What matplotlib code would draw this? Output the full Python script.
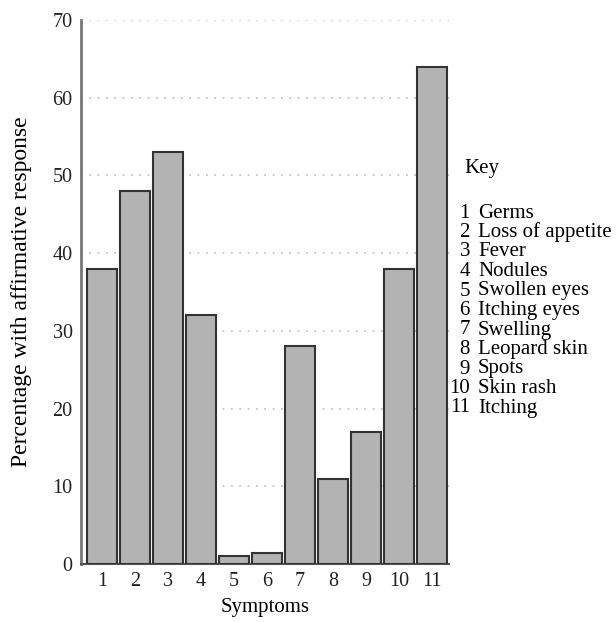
import matplotlib.pyplot as plt

plt.rcParams['font.family'] = ['Liberation Serif', 'DejaVu Serif']

symptoms = [1, 2, 3, 4, 5, 6, 7, 8, 9, 10, 11]
percentages = [38, 48, 53, 32, 1.0, 1.4, 28, 11, 17, 38, 64]
key_labels = ['Germs', 'Loss of appetite', 'Fever', 'Nodules', 'Swollen eyes',
              'Itching eyes', 'Swelling', 'Leopard skin', 'Spots', 'Skin rash', 'Itching']

fig = plt.figure(figsize=(6.16, 6.22), dpi=100)
ax = fig.add_axes([81/616, 58/622, 368/616, 544/622])

ax.grid(True, axis='y', linestyle=(0, (1, 4)), color='#bbbbbb', linewidth=1.2, zorder=0)
ax.bar(symptoms, percentages, width=0.92, color='#b3b3b3', edgecolor='#333333',
       linewidth=1.5, zorder=3)

ax.set_xlim(0.36, 11.52)
ax.set_ylim(0, 70)
ax.set_xticks(symptoms)
ax.set_yticks(range(0, 71, 10))
ax.tick_params(axis='both', length=0, labelsize=14.5, colors='#222222', pad=6)

ax.spines['top'].set_visible(False)
ax.spines['right'].set_visible(False)
ax.spines['left'].set_color('#777777')
ax.spines['left'].set_linewidth(2)
ax.spines['bottom'].set_color('#555555')
ax.spines['bottom'].set_linewidth(1.5)

ax.set_xlabel('Symptoms', fontsize=15, labelpad=5)
ax.set_ylabel('Percentage with affirmative response', fontsize=17, labelpad=15)

# key on the right side
fig.text(464/616, 1 - 168/622, 'Key', fontsize=15, va='center', ha='left')
for i, name in enumerate(key_labels):
    y = 1 - (213 + i * 19.5) / 622
    fig.text(470/616, y, str(i + 1), fontsize=15, va='center', ha='right')
    fig.text(478/616, y, name, fontsize=15, va='center', ha='left')

plt.savefig('out.png', dpi=100)
